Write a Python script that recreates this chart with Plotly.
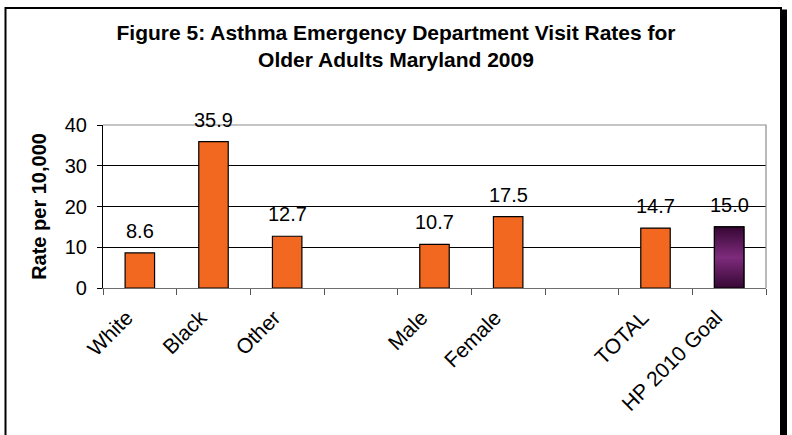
import plotly.graph_objects as go

# Asthma ED visit rates, older adults, Maryland 2009 (blank slots separate groups)
categories = ["White", "Black", "Other", "", "Male", "Female", "", "TOTAL", "HP 2010 Goal"]
rates = [8.6, 35.9, 12.7, None, 10.7, 17.5, None, 14.7, 15.0]
goal_category = "HP 2010 Goal"

W, H = 792, 435
ML, MR, MT, MB = 103, 26, 125, 147
PW, PH = W - ML - MR, H - MT - MB
BAR_W = 0.40
ORANGE = "#F36821"
FONT = "Liberation Sans, Arial, sans-serif"


def px_x(px):
    return (px - ML) / PW


def px_y(py):
    return (H - MB - py) / PH


positions = list(range(len(categories)))
bar_x = [p for p, v in zip(positions, rates) if v is not None]
bar_y = [v for v in rates if v is not None]
bar_names = [c for c, v in zip(categories, rates) if v is not None]
bar_colors = ["#6A2268" if n == goal_category else ORANGE for n in bar_names]

fig = go.Figure()
fig.add_trace(go.Bar(
    x=bar_x, y=bar_y, width=BAR_W,
    marker=dict(color=bar_colors, line=dict(color="#000000", width=1.2)),
    hoverinfo="skip", showlegend=False,
))

# Goal bar drawn again with a vertical purple gradient fill
gi = categories.index(goal_category)
gv = rates[gi]
fig.add_trace(go.Scatter(
    x=[gi - BAR_W / 2, gi + BAR_W / 2, gi + BAR_W / 2, gi - BAR_W / 2, gi - BAR_W / 2],
    y=[0, 0, gv, gv, 0],
    mode="lines", fill="toself",
    fillgradient=dict(type="vertical",
                      colorscale=[[0, "#360734"], [0.5, "#7E2B7C"], [1, "#360734"]]),
    line=dict(color="#000000", width=1.2),
    hoverinfo="skip", showlegend=False,
))

# Value labels above each bar
for p, v in zip(positions, rates):
    if v is None:
        continue
    fig.add_annotation(x=p, y=v, text=f"{v:.1f}", showarrow=False,
                       yanchor="bottom", yshift=9,
                       font=dict(family=FONT, size=20, color="#000000"))

shapes = [
    # plot area border (top and right)
    dict(type="path", xref="paper", yref="paper", path="M 0,1 L 1,1 L 1,0",
         line=dict(color="#8C8C8C", width=1.2), layer="above"),
    # outer chart frame
    dict(type="rect", xref="paper", yref="paper",
         x0=px_x(5.5), x1=px_x(781), y0=px_y(450), y1=px_y(8),
         line=dict(color="#000000", width=2), fillcolor="rgba(0,0,0,0)", layer="below"),
    # frame drop shadow
    dict(type="rect", xref="paper", yref="paper",
         x0=px_x(781), x1=px_x(787), y0=px_y(450), y1=px_y(9.5),
         line=dict(width=0), fillcolor="#000000", layer="below"),
]

fig.update_layout(
    width=W, height=H,
    margin=dict(l=ML, r=MR, t=MT, b=MB, pad=0),
    paper_bgcolor="#FFFFFF", plot_bgcolor="#FFFFFF",
    font=dict(family=FONT, size=20, color="#000000"),
    title=dict(
        text="<b>Figure 5: Asthma Emergency Department Visit Rates for<br>Older Adults Maryland 2009</b>",
        x=0.5, xanchor="center", xref="container",
        y=1 - 40 / H, yanchor="top", yref="container",
        font=dict(family=FONT, size=21, color="#000000"),
    ),
    xaxis=dict(
        range=[-0.5, len(categories) - 0.5],
        tickmode="array", tickvals=positions, ticktext=categories,
        tickangle=-45, ticks="", showgrid=False, zeroline=False,
        showline=True, linecolor="#6E6E6E", linewidth=1.2,
        minor=dict(tick0=-0.5, dtick=1, ticks="outside", ticklen=6,
                   tickcolor="#555555", tickwidth=1.2, showgrid=False),
        ticklabelstandoff=8, ticklabelshift=-13,
        tickfont=dict(family=FONT, size=21, color="#000000"),
        fixedrange=True,
    ),
    yaxis=dict(
        range=[0, 40], tickmode="array", tickvals=[0, 10, 20, 30, 40],
        ticks="outside", ticklen=5, tickcolor="#000000", tickwidth=1.2,
        showline=True, linecolor="#000000", linewidth=1.2,
        showgrid=True, gridcolor="#000000", gridwidth=1,
        zeroline=False,
        ticklabelstandoff=6,
        tickfont=dict(family=FONT, size=20, color="#000000"),
        title=dict(text="<b>Rate per 10,000</b>", standoff=12,
                   font=dict(family=FONT, size=20, color="#000000")),
        fixedrange=True,
    ),
    shapes=shapes,
    bargap=0.6,
)

fig.write_html("out.html")
